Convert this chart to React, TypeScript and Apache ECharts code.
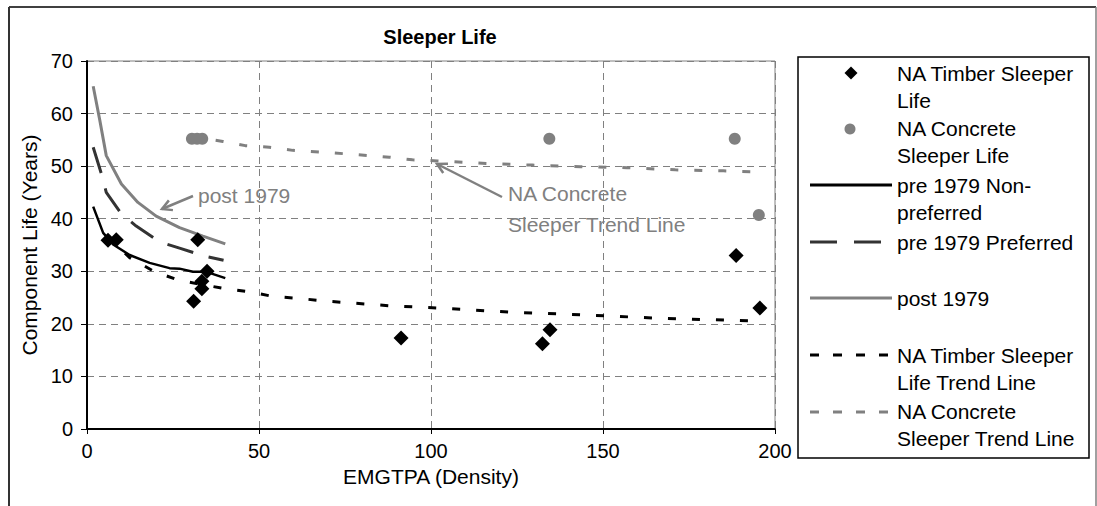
import React, { useEffect, useRef } from "react";
import * as echarts from "echarts";

// ---- data ----
const timberPoints: [number, number][] = [
  [6.1, 35.9], [8.5, 36], [32.2, 36], [34.9, 30], [33.4, 28.1], [33.4, 26.7], [31, 24.3],
  [91.3, 17.3], [134.6, 18.9], [132.4, 16.2], [188.7, 33], [195.6, 23],
];
const concretePoints: [number, number][] = [
  [30.5, 55.2], [32, 55.2], [33.5, 55.2], [134.4, 55.2], [188.3, 55.2], [195.3, 40.7],
];
const pre1979NonPreferred: [number, number][] = [
  [1.8, 42.3], [4.7, 37.3], [7.6, 35.1], [12.4, 33.1], [18.2, 31.6], [24, 30.6],
  [26.9, 30.5], [30.8, 29.9], [34.7, 29.9], [40.2, 28.7],
];
const pre1979Preferred: [number, number][] = [
  [1.8, 53.6], [4.2, 48.5], [5.6, 45], [10, 40.9], [14.3, 38.6], [21.1, 35.6],
  [26.9, 34.4], [34.2, 32.9], [39.7, 32.1],
];
const post1979: [number, number][] = [
  [1.8, 65.2], [3.7, 58.8], [5.6, 52], [10, 46.6], [14.8, 43.1], [20.1, 40.5],
  [26.9, 38.3], [33.7, 36.7], [40.2, 35.2],
];
const timberTrend: [number, number][] = [
  [6, 36.6], [12.4, 32.6], [19.4, 30], [26.2, 28.4], [33, 27.5], [40.2, 26.7],
  [47.2, 26.1], [54.1, 25.2], [60.6, 24.9], [70, 24.3], [88.9, 23.4], [102.9, 23],
  [123.6, 22.2], [137.7, 21.9], [151.2, 21.5], [165.3, 21.1], [186, 20.7], [195.6, 20.5],
];
const concreteTrend: [number, number][] = [
  [30.5, 55.6], [39.5, 54.7], [46, 53.9], [53, 53.6], [59.8, 53], [70, 52.6],
  [87.9, 51.7], [94.6, 51.2], [101.9, 51], [116, 50.5], [129.5, 50.2], [143.5, 49.9],
  [157, 49.7], [171, 49.3], [185, 49.1], [195.3, 48.9],
];
const seriesNames = [
  "NA Timber Sleeper Life",
  "NA Concrete Sleeper Life",
  "pre 1979 Non-preferred",
  "pre 1979 Preferred",
  "post 1979",
  "NA Timber Sleeper Life Trend Line",
  "NA Concrete Sleeper Trend Line",
];
const legendLines: string[][] = [
  ["NA Timber Sleeper", "Life"],
  ["NA Concrete", "Sleeper Life"],
  ["pre 1979 Non-", "preferred"],
  ["pre 1979 Preferred"],
  ["post 1979"],
  ["NA Timber Sleeper", "Life Trend Line"],
  ["NA Concrete", "Sleeper Trend Line"],
];
const chartTitle = "Sleeper Life";
const xAxisTitle = "EMGTPA (Density)";
const yAxisTitle = "Component Life (Years)";

const FONT = "'Liberation Sans', Arial, sans-serif";
const GRAY = "#808080";
const DARK = "#333333";

export default function App() {
  const ref = useRef<HTMLDivElement>(null);
  useEffect(() => {
    if (!ref.current) return;
    const chart = echarts.init(ref.current, null, { renderer: "svg" });

    // legend graphic
    const legendX = 810;
    const lineEnd = 892;
    const textX = 897;
    const firstLineY = [73, 128, 185, 242, 298, 355, 411];
    const lineGap = 27;
    const legendChildren: any[] = [
      {
        type: "rect",
        shape: { x: 798, y: 57, width: 291, height: 401 },
        style: { fill: "#fff", stroke: "#000", lineWidth: 1.5 },
      },
    ];
    legendLines.forEach((lines, i) => {
      lines.forEach((t, j) => {
        legendChildren.push({
          type: "text",
          x: textX,
          y: firstLineY[i] + j * lineGap,
          style: {
            text: t,
            font: `21px ${FONT}`,
            fill: "#000",
            verticalAlign: "middle",
            align: "left",
          },
        });
      });
    });
    const cy = firstLineY;
    legendChildren.push(
      {
        type: "polygon",
        shape: { points: [[851, cy[0] - 6.5], [857.5, cy[0]], [851, cy[0] + 6.5], [844.5, cy[0]]] },
        style: { fill: "#000" },
      },
      { type: "circle", shape: { cx: 850, cy: cy[1] + 1, r: 5.5 }, style: { fill: GRAY } },
      {
        type: "line",
        shape: { x1: legendX, y1: cy[2], x2: lineEnd, y2: cy[2] },
        style: { stroke: "#000", lineWidth: 3 },
      },
      {
        type: "line",
        shape: { x1: legendX, y1: cy[3], x2: lineEnd, y2: cy[3] },
        style: { stroke: DARK, lineWidth: 3, lineDash: [27, 17] },
      },
      {
        type: "line",
        shape: { x1: legendX, y1: cy[4], x2: lineEnd, y2: cy[4] },
        style: { stroke: GRAY, lineWidth: 3 },
      },
      {
        type: "line",
        shape: { x1: legendX, y1: cy[5], x2: lineEnd, y2: cy[5] },
        style: { stroke: "#000", lineWidth: 3, lineDash: [9, 14] },
      },
      {
        type: "line",
        shape: { x1: legendX, y1: cy[6] + 1, x2: lineEnd, y2: cy[6] + 1 },
        style: { stroke: GRAY, lineWidth: 3, lineDash: [9, 14] },
      }
    );

    const arrow = (x1: number, y1: number, x2: number, y2: number) => {
      const ang = Math.atan2(y1 - y2, x1 - x2);
      const L = 11;
      const a1 = ang + 0.5;
      const a2 = ang - 0.5;
      return [
        { type: "line", shape: { x1, y1, x2, y2 }, style: { stroke: GRAY, lineWidth: 2.5 }, z: 20 },
        {
          type: "polyline",
          shape: {
            points: [
              [x2 + L * Math.cos(a1), y2 + L * Math.sin(a1)],
              [x2, y2],
              [x2 + L * Math.cos(a2), y2 + L * Math.sin(a2)],
            ],
          },
          style: { stroke: GRAY, lineWidth: 2.5, fill: null },
          z: 20,
        },
      ];
    };

    const option: any = {
      animation: false,
      backgroundColor: "#fff",
      title: {
        text: chartTitle,
        left: 435,
        top: 22,
        textAlign: "center",
        textStyle: { fontFamily: FONT, fontSize: 20, fontWeight: "bold", color: "#000" },
      },
      grid: {
        left: 87,
        top: 61,
        right: 322,
        bottom: 77,
        show: true,
        borderColor: GRAY,
        borderWidth: 1,
        backgroundColor: "transparent",
      },
      xAxis: {
        type: "value",
        min: 0,
        max: 200,
        interval: 50,
        name: xAxisTitle,
        nameLocation: "middle",
        nameGap: 37,
        nameTextStyle: { fontFamily: FONT, fontSize: 21, color: "#000" },
        axisLine: { show: true, onZero: false, lineStyle: { color: "#000", width: 2 } },
        axisTick: { show: true, length: 5, lineStyle: { color: "#000" } },
        axisLabel: { fontFamily: FONT, fontSize: 20, color: "#000", margin: 12 },
        splitLine: { show: true, lineStyle: { color: GRAY, type: [7, 5], width: 1 } },
      },
      yAxis: {
        type: "value",
        min: 0,
        max: 70,
        interval: 10,
        name: yAxisTitle,
        nameLocation: "middle",
        nameGap: 44,
        nameTextStyle: { fontFamily: FONT, fontSize: 21, color: "#000" },
        axisLine: { show: true, onZero: false, lineStyle: { color: "#000", width: 2 } },
        axisTick: { show: true, length: 6, lineStyle: { color: "#000" } },
        axisLabel: { fontFamily: FONT, fontSize: 20, color: "#000", margin: 14 },
        splitLine: { show: true, lineStyle: { color: GRAY, type: [7, 5], width: 1 } },
      },
      series: [
        {
          name: seriesNames[0],
          type: "scatter",
          data: timberPoints,
          symbol: "diamond",
          symbolSize: 15,
          itemStyle: { color: "#000", opacity: 1 },
          z: 10,
        },
        {
          name: seriesNames[1],
          type: "scatter",
          data: concretePoints,
          symbol: "circle",
          symbolSize: 12,
          itemStyle: { color: GRAY, opacity: 1 },
          z: 9,
        },
        {
          name: seriesNames[2],
          type: "line",
          data: pre1979NonPreferred,
          showSymbol: false,
          lineStyle: { color: "#000", width: 2.5 },
          itemStyle: { color: "#000" },
          z: 5,
        },
        {
          name: seriesNames[3],
          type: "line",
          data: pre1979Preferred,
          showSymbol: false,
          lineStyle: { color: DARK, width: 3, type: [27, 16] },
          itemStyle: { color: DARK },
          z: 5,
        },
        {
          name: seriesNames[4],
          type: "line",
          data: post1979,
          showSymbol: false,
          lineStyle: { color: GRAY, width: 3 },
          itemStyle: { color: GRAY },
          z: 5,
        },
        {
          name: seriesNames[5],
          type: "line",
          data: timberTrend,
          showSymbol: false,
          lineStyle: { color: "#000", width: 3, type: [8, 16] },
          itemStyle: { color: "#000" },
          z: 4,
        },
        {
          name: seriesNames[6],
          type: "line",
          data: concreteTrend,
          showSymbol: false,
          lineStyle: { color: GRAY, width: 3, type: [8, 16] },
          itemStyle: { color: GRAY },
          z: 4,
        },
      ],
      graphic: [
        // outer frame
        { type: "line", shape: { x1: 9, y1: 7, x2: 1096, y2: 7 }, style: { stroke: "#000", lineWidth: 1.5 } },
        { type: "line", shape: { x1: 9, y1: 7, x2: 9, y2: 506 }, style: { stroke: DARK, lineWidth: 2 } },
        { type: "line", shape: { x1: 1096, y1: 7, x2: 1096, y2: 506 }, style: { stroke: GRAY, lineWidth: 1.5 } },
        // annotations
        {
          type: "text",
          x: 198,
          y: 195,
          style: { text: "post 1979", font: `21px ${FONT}`, fill: GRAY, verticalAlign: "middle" },
          z: 20,
        },
        ...arrow(193, 196, 162, 209),
        {
          type: "text",
          x: 508,
          y: 193,
          style: { text: "NA Concrete", font: `21px ${FONT}`, fill: GRAY, verticalAlign: "middle" },
          z: 20,
        },
        {
          type: "text",
          x: 508,
          y: 224,
          style: { text: "Sleeper Trend Line", font: `21px ${FONT}`, fill: GRAY, verticalAlign: "middle" },
          z: 20,
        },
        ...arrow(502, 197, 437, 164),
        { type: "group", children: legendChildren, z: 30 },
      ],
    };
    chart.setOption(option);
    return () => chart.dispose();
  }, []);
  return (
    <div
      ref={ref}
      style={{ position: "fixed", left: 0, top: 0, width: 1097, height: 506, background: "#fff" }}
    />
  );
}
